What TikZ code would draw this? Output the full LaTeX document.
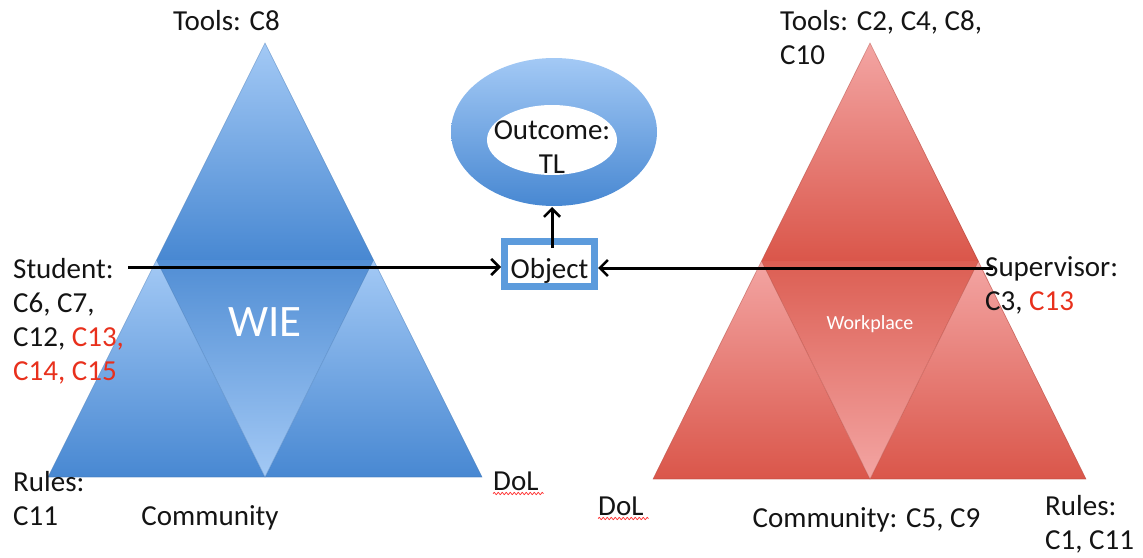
\documentclass[tikz,border=0pt]{standalone}
\usepackage{fontspec}
\setmainfont{Carlito}
\usetikzlibrary{arrows.meta,decorations.pathmorphing}
\definecolor{bluelt}{RGB}{163,201,245}
\definecolor{bluedk}{RGB}{72,136,210}
\definecolor{redlt}{RGB}{243,165,163}
\definecolor{reddk}{RGB}{218,86,74}
\definecolor{hlred}{RGB}{232,48,28}
\definecolor{objblue}{RGB}{92,155,220}
\definecolor{txt}{RGB}{20,20,20}
\begin{document}
\begin{tikzpicture}[x=1pt,y=-1pt,
  lbl/.style={font=\fontsize{29}{34}\selectfont, text=txt, inner sep=0pt, align=left},
  arr/.style={line width=3pt, -{Straight Barb[length=8pt,width=16pt,line width=2.6pt]}},
  bluefacet/.style={draw=bluedk!85!black, draw opacity=0.5, line width=0.6pt},
  redfacet/.style={draw=reddk!80!black, draw opacity=0.5, line width=0.6pt},
  wavy/.style={draw=red!85, line width=0.7pt, decorate, decoration={snake, amplitude=1.1pt, segment length=4pt}}]
\useasboundingbox (0,0) rectangle (1143,557);

% ---------- left (blue) triangle ----------
\coordinate (LA)  at (265,43);
\coordinate (LBL) at (48,477);
\coordinate (LBR) at (482,477);
\coordinate (LML) at (156.5,260);
\coordinate (LMR) at (373.5,260);
\coordinate (LMB) at (265,477);
\shade[top color=bluelt, bottom color=bluedk] (LA) -- (LML) -- (LMR) -- cycle;
\shade[top color=bluelt, bottom color=bluedk] (LML) -- (LBL) -- (LMB) -- cycle;
\shade[top color=bluelt, bottom color=bluedk] (LMR) -- (LMB) -- (LBR) -- cycle;
\shade[top color=bluedk!95!white, bottom color=bluelt] (LML) -- (LMR) -- (LMB) -- cycle;
\path[bluefacet] (LML) -- (LMB) -- (LMR);
\path[bluefacet] (LA) -- (LBL) -- (LBR) -- cycle;

% ---------- right (red) triangle ----------
\coordinate (RA)  at (870,43);
\coordinate (RBL) at (653,479);
\coordinate (RBR) at (1086,479);
\coordinate (RML) at (761.5,261);
\coordinate (RMR) at (978.5,261);
\coordinate (RMB) at (870,479);
\shade[top color=redlt, bottom color=reddk] (RA) -- (RML) -- (RMR) -- cycle;
\shade[top color=redlt, bottom color=reddk] (RML) -- (RBL) -- (RMB) -- cycle;
\shade[top color=redlt, bottom color=reddk] (RMR) -- (RMB) -- (RBR) -- cycle;
\shade[top color=reddk!95!white, bottom color=redlt] (RML) -- (RMR) -- (RMB) -- cycle;
\path[redfacet] (RML) -- (RMB) -- (RMR);
\path[redfacet] (RA) -- (RBL) -- (RBR) -- cycle;

% ---------- outcome ring ----------
\shade[top color=bluelt, bottom color=bluedk] (554,132) ellipse [x radius=103pt, y radius=74pt];
\fill[white] (552,140) ellipse [x radius=65pt, y radius=35pt];
\coordinate (ringBot) at (552,207);
\node[lbl, align=center, anchor=base] (outcome) at (552,173) {Outcome:\\TL};

% ---------- object ----------
\node[draw=objblue, line width=7pt, fill=white, minimum width=90pt, minimum height=45pt,
      inner sep=0pt, text height=34pt, text depth=6pt, text=txt,
      font=\fontsize{29}{34}\selectfont] (object) at (549.5,264) {Object};

% ---------- connectors ----------
\coordinate (stuStart) at (128,267);
\coordinate (supStart) at (993,268);
\draw[arr] (stuStart) -- (stuStart -| object.west);
\draw[arr] (supStart) -- (supStart -| object.east);
\draw[arr, shorten <=-10pt] (object.north -| ringBot) -- (ringBot);

% ---------- labels ----------
\node[font=\fontsize{45}{45}\selectfont, text=white, inner sep=0pt, anchor=base] (wie) at (265,336) {WIE};
\node[font=\fontsize{20}{20}\selectfont, text=white, inner sep=0pt, anchor=base] (workplace) at (870,329) {Workplace};

\node[lbl, anchor=base] (toolsL) at (226.5,30) {Tools: C8};
\node[lbl, anchor=base west] (student) at (13,380) {Student:\\C6, C7,\\C12, \textcolor{hlred}{C13,}\\\textcolor{hlred}{C14, C15}};
\node[lbl, anchor=base west] (rulesL) at (13,525) {Rules:\\C11};
\node[lbl, anchor=base] (commL) at (210,525) {Community};
\node[lbl, anchor=base west] (dolL) at (493,490) {DoL};
\path[wavy] ([yshift=-3.5pt]dolL.base west) -- ([xshift=5pt,yshift=-3.5pt]dolL.base east);

\node[lbl, anchor=base west] (toolsR) at (780,64) {Tools: C2, C4, C8,\\C10};
\node[lbl, anchor=base west] (sup) at (985,310) {Supervisor:\\C3, \textcolor{hlred}{C13}};
\node[lbl, anchor=base west] (dolR) at (598,515) {DoL};
\path[wavy] ([yshift=-3.5pt]dolR.base west) -- ([xshift=5pt,yshift=-3.5pt]dolR.base east);
\node[lbl, anchor=base] (commR) at (866.5,527) {Community: C5, C9};
\node[lbl, anchor=base west] (rulesR) at (1045,549) {Rules:\\C1, C11};
\end{tikzpicture}
\end{document}
